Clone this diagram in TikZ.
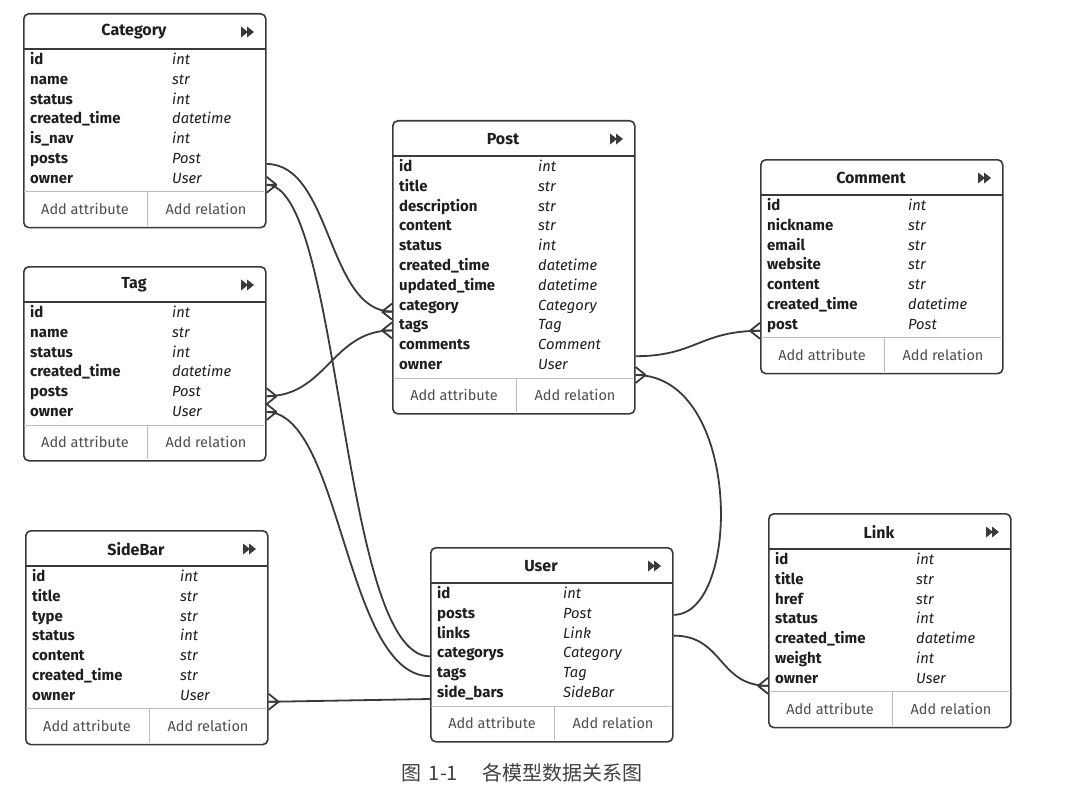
\documentclass[tikz,border=0pt]{standalone}
\usepackage{fontspec}
\setmainfont{Fira Sans}
\newfontfamily\cjk{Noto Sans CJK SC}
\usetikzlibrary{calc}

\definecolor{lineink}{HTML}{3A3A3A}
\definecolor{textink}{HTML}{1E1E1E}
\definecolor{softink}{HTML}{4E4E4E}
\definecolor{ruleink}{HTML}{BDBDBD}

\tikzset{
  tblframe/.style={draw=lineink, line width=1.6pt, rounded corners=5pt, inner sep=0pt,
                   anchor=north west, minimum width=242pt},
  tbltitle/.style={font=\fontsize{16}{18}\selectfont\bfseries, text=textink, inner sep=0pt},
  fieldtxt/.style={font=\fontsize{15}{17}\selectfont\bfseries, text=textink, anchor=west,
                   inner sep=0pt, text height=10pt, text depth=3pt},
  typetxt/.style={font=\fontsize{14.7}{17}\selectfont\itshape, text=textink, anchor=west,
                  inner sep=0pt, text height=10pt, text depth=3pt},
  foottxt/.style={font=\fontsize{14.5}{16}\selectfont, text=softink, inner sep=0pt},
  hdrrule/.style={draw=lineink, line width=1.6pt},
  footrule/.style={draw=ruleink, line width=0.8pt},
  relline/.style={draw=lineink, line width=1.8pt},
  crow/.pic={\draw[relline] (-10,0) -- (0,-8) (-10,0) -- (0,8) (-10,0) -- (0,0);},
}

% table: name, x, y, title, type column, rows, field/type list
\newcommand{\ertable}[7]{%
  \pgfmathsetmacro\tblsep{#3+46+(#6-1)*19.8+14}
  \pgfmathsetmacro\tblh{\tblsep-#3+35}
  \node[tblframe, minimum height=\tblh pt] (#1) at (#2,#3) {};
  \node[tbltitle] (#1-title) at (#2+111,#3+19) {#4};
  \fill[lineink] (#2+218,#3+13.5) -- (#2+225,#3+19) -- (#2+218,#3+24.5) -- cycle
                 (#2+224,#3+13.5) -- (#2+231,#3+19) -- (#2+224,#3+24.5) -- cycle;
  \draw[hdrrule] (#2,#3+36) -- (#2+242,#3+36);
  \foreach [count=\i] \f/\t in {#7} {
    \node[fieldtxt] (#1-\i) at ({#2+7},{#3+48+(\i-1)*19.8}) {\f};
    \node[typetxt] (#1-\i-type) at ({#2+#5},{#3+48+(\i-1)*19.8}) {\t};
  }
  \draw[footrule] (#2+1,\tblsep) -- (#2+241,\tblsep) (#2+124,\tblsep) -- (#2+124,\tblsep+34);
  \node[foottxt] (#1-addattr) at (#2+62,\tblsep+17) {Add attribute};
  \node[foottxt] (#1-addrel) at (#2+183,\tblsep+17) {Add relation};
}

\begin{document}
\begin{tikzpicture}[x=1pt, y=-1pt]
  \fill[white] (0,0) rectangle (1086,797);
  \useasboundingbox (0,0) rectangle (1086,797);

  % tables
  \ertable{cat}{23}{13}{Category}{149}{7}{id/int, name/str, status/int,
    created\_time/datetime, is\_nav/int, posts/Post, owner/User}
  \ertable{tag}{23}{266}{Tag}{149}{6}{id/int, name/str, status/int,
    created\_time/datetime, posts/Post, owner/User}
  \ertable{bar}{25}{530}{SideBar}{155}{7}{id/int, title/str, type/str, status/int,
    content/str, created\_time/str, owner/User}
  \ertable{post}{392}{120}{Post}{146}{11}{id/int, title/str, description/str, content/str,
    status/int, created\_time/datetime, updated\_time/datetime, category/Category,
    tags/Tag, comments/Comment, owner/User}
  \ertable{cmt}{760}{159}{Comment}{148}{7}{id/int, nickname/str, email/str, website/str,
    content/str, created\_time/datetime, post/Post}
  \ertable{user}{430}{547}{User}{133}{6}{id/int, posts/Post, links/Link,
    categorys/Category, tags/Tag, side\_bars/SideBar}
  \ertable{link}{768}{513}{Link}{148}{7}{id/int, title/str, href/str, status/int,
    created\_time/datetime, weight/int, owner/User}

  % relation ends
  \coordinate (cat-out1) at ($(cat.east |- cat-6)+(0,4)$);
  \coordinate (cat-out2) at ($(cat.east |- cat-7)+(0,5)$);
  \coordinate (tag-out1) at ($(tag.east |- tag-5)+(0,3)$);
  \coordinate (tag-out2) at ($(tag.east |- tag-6)+(0,-1)$);
  \coordinate (bar-out) at ($(bar.east |- bar-7)+(0,5)$);
  \coordinate (post-in1) at ($(post.west |- post-8)+(0,5)$);
  \coordinate (post-in2) at ($(post.west |- post-9)+(0,4)$);
  \coordinate (post-out1) at ($(post.east |- post-10)+(0,10)$);
  \coordinate (post-out2) at ($(post.east |- post-11)+(0,9)$);
  \coordinate (cmt-in) at ($(cmt.west |- cmt-7)+(0,5)$);
  \coordinate (user-in1) at ($(user.west |- user-4)+(0,2)$);
  \coordinate (user-in2) at ($(user.west |- user-5)+(0,2)$);
  \coordinate (user-in3) at ($(user.west |- user-6)+(0,5)$);
  \coordinate (user-out1) at ($(user.east |- user-2)+(0,0)$);
  \coordinate (user-out2) at ($(user.east |- user-3)+(0,1)$);
  \coordinate (link-in) at ($(link.west |- link-7)+(0,6)$);

  % relations
  \draw[relline] (cat-out1) .. controls +(65,0) and +(-65,0) .. (post-in1);
  \draw[relline] (cat-out2) .. controls +(75,0) and +(-90,0) .. (user-in1);
  \draw[relline] (tag-out1) .. controls +(60,0) and +(-60,0) .. (post-in2);
  \draw[relline] (tag-out2) .. controls +(75,0) and +(-85,0) .. (user-in2);
  \draw[relline] (bar-out) -- (user-in3);
  \draw[relline] (post-out1) .. controls +(60,0) and +(-60,0) .. (cmt-in);
  \draw[relline] (post-out2) .. controls +(107,0) and +(68,0) .. (user-out1);
  \draw[relline] (user-out2) .. controls +(50,0) and +(-50,0) .. (link-in);

  \pic at (post-in1) {crow};
  \pic at (post-in2) {crow};
  \pic at (cmt-in) {crow};
  \pic at (link-in) {crow};
  \pic[xscale=-1] at (cat-out2) {crow};
  \pic[xscale=-1] at (tag-out1) {crow};
  \pic[xscale=-1] at (tag-out2) {crow};
  \pic[xscale=-1] at (bar-out) {crow};
  \pic[xscale=-1] at (post-out2) {crow};

  \node[font=\cjk\fontsize{20}{22}\selectfont, text=textink!85] (caption) at (522,773)
    {图\hspace{7pt}1-1\hspace{24pt}各模型数据关系图};
\end{tikzpicture}
\end{document}
